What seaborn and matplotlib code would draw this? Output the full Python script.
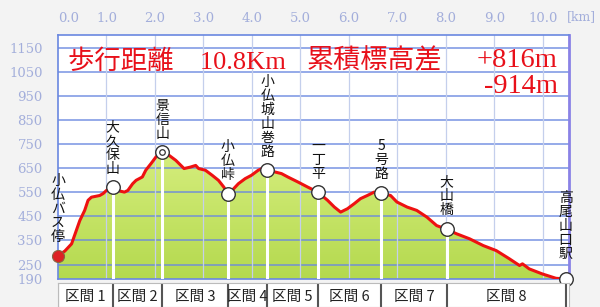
import numpy as np
import pandas as pd
import matplotlib
matplotlib.use("Agg")
import matplotlib.pyplot as plt
import seaborn as sns

# ---- data ----
prof_km = [0.0, 0.14, 0.28, 0.45, 0.55, 0.62, 0.69, 0.86, 0.93, 1.0, 1.13, 1.23, 1.37, 1.44,
           1.54, 1.61, 1.74, 1.81, 1.92, 2.02, 2.09, 2.15, 2.29, 2.43, 2.6, 2.73, 2.84, 2.9,
           3.04, 3.18, 3.31, 3.42, 3.5, 3.59, 3.72, 3.86, 3.99, 4.13, 4.27, 4.32, 4.47, 4.61,
           4.74, 4.95, 5.15, 5.36, 5.56, 5.7, 5.83, 5.97, 6.11, 6.24, 6.38, 6.52, 6.67, 6.86,
           6.99, 7.2, 7.4, 7.61, 7.81, 8.02, 8.22, 8.49, 8.77, 9.04, 9.31, 9.52, 9.58, 9.72,
           9.99, 10.27, 10.47]
prof_elev = [287, 306, 336, 433, 475, 517, 530, 537, 545, 558, 572, 558, 551, 558,
             586, 600, 614, 642, 670, 697, 711, 718, 704, 683, 649, 655, 662, 649,
             642, 621, 600, 572, 545, 558, 586, 607, 621, 642, 655, 645, 635, 628,
             614, 593, 572, 551, 517, 489, 468, 482, 503, 524, 537, 551, 547, 537,
             510, 489, 475, 447, 412, 396, 378, 357, 329, 308, 274, 246, 253, 232,
             211, 193, 190]

wp_names = ["小仏バス停", "大久保山", "景信山", "小仏峠", "小仏城山巻路", "一丁平", "5号路", "大山橋", "高尾山口駅"]
wp_km = [0.0, 1.13, 2.15, 3.5, 4.32, 5.36, 6.67, 8.02, 10.47]
wp_elev = [287, 572, 718, 545, 645, 551, 547, 396, 190]

sections = ["区間 1", "区間 2", "区間 3", "区間 4", "区間 5", "区間 6", "区間 7", "区間 8"]

x_ticks = [0, 1, 2, 3, 4, 5, 6, 7, 8, 9, 10]
x_ticklabels = ["0.0", "1.0", "2.0", "3.0", "4.0", "5.0", "6.0", "7.0", "8.0", "9.0", "10.0"]
y_ticks = [190, 250, 350, 450, 550, 650, 750, 850, 950, 1050, 1150]
y_grid = [250, 350, 450, 550, 650, 750, 850, 950, 1050, 1150]

title_left = "歩行距離　10.8Km"
title_mid = "累積標高差"
gain_text = "+816m"
loss_text = "-914m"

# ---- style ----
sns.set_theme(style="white")
plt.rcParams['font.family'] = ['Noto Sans CJK JP', 'DejaVu Sans']

XMAX = 10.54
YMIN, YMAX = 190, 1204
tick_col = "#a3aedb"

fig = plt.figure(figsize=(6.0, 3.07), dpi=100)
fig.patch.set_facecolor("#f3f3f3")
ax = fig.add_axes([58/600, 1-279/307, (569-58)/600, (279-35)/307])
ax.set_facecolor("white")

df = pd.DataFrame({"km": prof_km, "elev": prof_elev})

# gradient fill under profile
grad = np.linspace(0, 1, 256).reshape(-1, 1)
cmap = matplotlib.colors.LinearSegmentedColormap.from_list("g", ["#b4d94e", "#d6ee7e"])
im = ax.imshow(grad, extent=[0, XMAX, YMIN, 730], aspect="auto", cmap=cmap, origin="lower", zorder=1)
poly = ax.fill_between(df["km"], df["elev"], YMIN, color="none", lw=0)
im.set_clip_path(poly.get_paths()[0], transform=ax.transData)

# grid
for yv in y_grid:
    ax.axhline(yv, color="#6a88e0", lw=1.1, alpha=0.9, zorder=2)
for xv in x_ticks[1:]:
    ax.axvline(xv, color="#c4cfec", lw=0.9, zorder=2)

# white drop lines from waypoints
ax.vlines(wp_km[1:-1], YMIN, wp_elev[1:-1], color="white", lw=2.2, zorder=3)

# profile line
sns.lineplot(data=df, x="km", y="elev", ax=ax, color="#ee1111", lw=2.2, zorder=4, legend=False)

# waypoint markers
wdf = pd.DataFrame({"km": wp_km, "elev": wp_elev})
sns.scatterplot(data=wdf.iloc[1:], x="km", y="elev", ax=ax, s=95, color="white",
                edgecolor="#333333", linewidth=1.0, zorder=6, legend=False, clip_on=False)
ax.scatter([wp_km[2]], [wp_elev[2]], s=16, facecolor="white", edgecolor="#333333", lw=0.9, zorder=7)
ax.scatter([wp_km[0]], [wp_elev[0]], s=75, color="#dd2222", edgecolor="#886644", lw=0.8,
           zorder=6, clip_on=False)

# waypoint labels (vertical text)
label_off = [48, 45, 45, 48, 45, 48, 50, 50, 75]
for name, k, e, off in zip(wp_names, wp_km, wp_elev, label_off):
    ax.text(k, e + off, "\n".join(name), ha="center", va="bottom", fontsize=10,
            linespacing=1.0, color="#111111", zorder=8)

ax.set_xlim(0, XMAX)
ax.set_ylim(YMIN, YMAX)
ax.xaxis.tick_top()
ax.set_xticks(x_ticks)
ax.set_xticklabels(x_ticklabels, family="DejaVu Serif", fontsize=9.5, color=tick_col)
ax.get_xticklabels()[0].set_ha("left")
ax.set_yticks(y_ticks)
ax.set_yticklabels([str(v) for v in y_ticks], family="DejaVu Serif", fontsize=9.5, color=tick_col)
ax.tick_params(axis="x", length=0, pad=7)
ax.tick_params(axis="y", length=0, pad=11)
ax.set_xlabel("")
ax.set_ylabel("")
for s in ["top", "left", "bottom"]:
    ax.spines[s].set_color("#6a88e0")
    ax.spines[s].set_linewidth(1.2)
ax.spines["right"].set_color("#8a82e6")
ax.spines["right"].set_linewidth(2.0)
ax.text(10.5, 1.0 + 18/244, "[km]", transform=ax.get_xaxis_transform(), ha="left", va="center",
        family="DejaVu Serif", fontsize=9, color=tick_col)

# red overlay texts
red = "#e8101a"
serif_cjk = ["Liberation Serif", "Noto Sans CJK JP"]
ax.text(0.2, 1095, title_left, fontsize=19, color=red, va="center", ha="left", zorder=9,
        family=serif_cjk)
ax.text(5.12, 1095, title_mid, fontsize=19.5, color=red, va="center", ha="left", zorder=9)
ax.text(10.3, 1097, gain_text, fontsize=20.5, color=red, va="center", ha="right", zorder=9,
        family="Liberation Serif")
ax.text(10.32, 988, loss_text, fontsize=20.5, color=red, va="center", ha="right", zorder=9,
        family="Liberation Serif")

# section band
ax2 = fig.add_axes([58/600, 0, (569-58)/600, 24/307])
ax2.set_facecolor("white")
ax2.set_xlim(0, XMAX)
ax2.set_ylim(0, 1)
bounds = wp_km
for b in bounds:
    ax2.axvline(b, color="#555555", lw=1.5)
for i, name in enumerate(sections):
    ax2.text((bounds[i] + bounds[i+1]) / 2, 0.42, name, ha="center", va="center", fontsize=10.5,
             color="#222222", clip_on=True)
ax2.set_xticks([])
ax2.set_yticks([])
for s in ax2.spines.values():
    s.set_color("#bbbbbb")
    s.set_linewidth(0.8)

fig.savefig("out.png", dpi=100, facecolor=fig.get_facecolor())
